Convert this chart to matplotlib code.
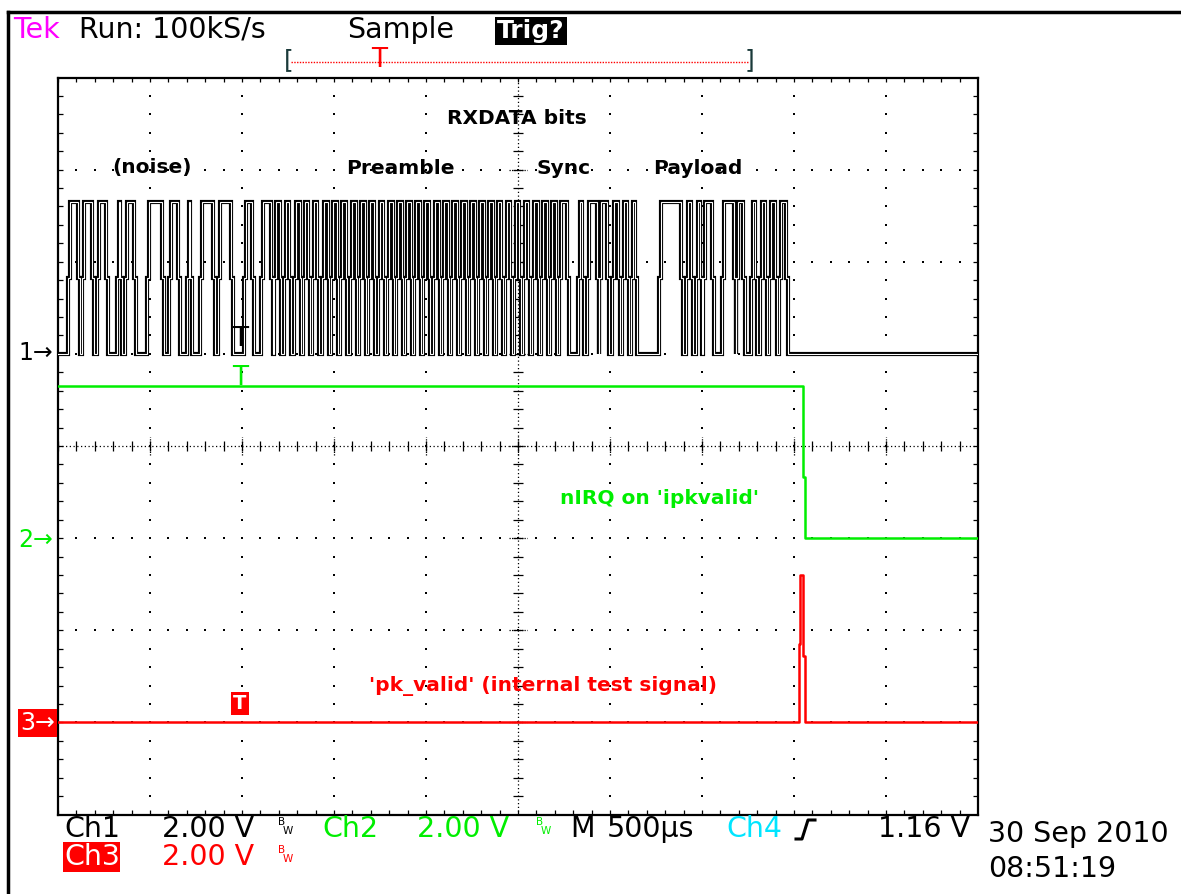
import numpy as np
import matplotlib.pyplot as plt
from matplotlib.lines import Line2D

W, H = 1181, 894
FONT = ['DejaVu Sans']

# ---------------- values ----------------
# time axis: us from left edge of screen, 500 us/div, 10 div
us_per_div = 500
volts_per_div = 2.0

# Ch1 (RXDATA) edge times in us, alternating rise / fall, starts low
ch1_edges_us = [
    # noise
    54, 109, 130, 185, 212, 261, 321, 337, 364, 413, 484, 565, 603, 652,
    701, 717, 772, 842, 870, 940, 1011, 1054, 1103, 1158,
    # preamble
    1174, 1204, 1228, 1258, 1283, 1313, 1332, 1361, 1380, 1410, 1435, 1465,
    1484, 1514, 1533, 1563, 1587, 1617, 1636, 1666, 1685, 1715, 1739, 1769,
    1788, 1818, 1837, 1867, 1886, 1916, 1935, 1965, 1984, 2014, 2038, 2068,
    2087, 2117, 2136, 2166, 2185, 2215, 2234, 2264, 2283, 2313, 2332, 2362,
    2380, 2410, 2429, 2459, 2478, 2508, 2527, 2557, 2576, 2606, 2625, 2655,
    2674, 2704, 2723, 2766,
    # sync + payload
    2826, 2848, 2875, 2929, 2940, 2984, 3011, 3043, 3065, 3092, 3114, 3136,
    3266, 3386, 3413, 3440, 3467, 3489, 3505, 3554, 3609, 3674, 3685, 3723,
    3766, 3788, 3815, 3842, 3864, 3897, 3918, 3957,
]
ch1_high_v = 3.3
ch1_pos_div = 1.0

# Ch2 (nIRQ) high then falls once
ch2_fall_us = 4049
ch2_high_v = 3.3
ch2_pos_div = -1.0

# Ch3 (pk_valid) short pulse
ch3_t_us = [0, 4026, 4026, 4034, 4034, 4050, 4050, 4062, 4062, 5000]
ch3_v = [0, 0, 1.7, 1.7, 3.2, 3.2, 1.45, 1.45, 0, 0]
ch3_pos_div = -3.0

trig_us = 989

GREEN = '#00ee00'
RED = '#ff0000'
top_text = [('Tek', 13, '#ff00ff'), ('Run: 100kS/s', 79, 'black'), ('Sample', 347, 'black')]
bottom_row1 = [('Ch1', 64, 'black'), ('2.00 V', 162, 'black'), ('Ch2', 322, GREEN),
               ('2.00 V', 417, GREEN), ('M', 570, 'black'), ('500\u00b5s', 607, 'black'),
               ('Ch4', 726, '#00e5ff'), ('1.16 V', 878, 'black')]
labels = [('RXDATA bits', 517, 118), ('(noise)', 152, 168), ('Preamble', 400, 168),
          ('Sync', 564, 168), ('Payload', 698, 168)]


def fx(x):
    return x / W


def fy(y):
    return 1 - y / H


def edge_trace(edges, hi, step=10):
    # scope draws one in-between sample on every edge
    t, v = [0], [0.0]
    lvl = 0.0
    for e in edges:
        new = hi if lvl == 0 else 0.0
        t += [e, e, e + step, e + step]
        v += [lvl, hi / 2, hi / 2, new]
        lvl = new
    t.append(5000)
    v.append(lvl)
    return np.array(t), np.array(v)


fig = plt.figure(figsize=(W / 100, H / 100), dpi=100)
fig.patch.set_facecolor('white')
ax = fig.add_axes([fx(58), fy(814.5), 920 / W, 737 / H])
ax.set_xlim(0, 10 * us_per_div)
ax.set_ylim(-4, 4)
ax.set_xticks([])
ax.set_yticks([])
for s in ax.spines.values():
    s.set_linewidth(1.6)
    s.set_color('black')

# ---------------- graticule ----------------
ys = np.arange(-4, 4.01, 0.2)
xs = np.arange(0, 5001, 100)
for i in range(1, 10):
    if i == 5:
        continue
    ax.plot([i * 500] * len(ys), ys, ls='none', marker='s', ms=1.5, color='black', mew=0)
for j in range(-3, 4):
    if j == 0:
        continue
    ax.plot(xs, [j] * len(xs), ls='none', marker='s', ms=1.5, color='black', mew=0)
ax.plot([2500, 2500], [-4, 4], ls=(0, (1, 2)), lw=0.9, color='black')
ax.plot([0, 5000], [0, 0], ls=(0, (1, 2)), lw=0.9, color='black')
ax.vlines(xs, -0.05, 0.05, color='black', lw=0.9)
ax.hlines(ys, 2500 - 27, 2500 + 27, color='black', lw=0.9)
ax.vlines(np.arange(500, 5000, 500), -0.1, 0.1, color='black', lw=0.9, ls=(0, (1, 1)))
ax.hlines(np.arange(-3, 4, 1), 2500 - 50, 2500 + 50, color='black', lw=0.9, ls=(0, (1, 1)))
# edge ticks
ax.vlines(xs, 4 - 0.05, 4, color='black', lw=0.9)
ax.vlines(xs, -4, -4 + 0.05, color='black', lw=0.9)
ax.hlines(ys, 0, 25, color='black', lw=0.9)
ax.hlines(ys, 5000 - 25, 5000, color='black', lw=0.9)

# ---------------- traces ----------------
t1, v1 = edge_trace(ch1_edges_us, ch1_high_v)
ax.plot(t1, ch1_pos_div + v1 / volts_per_div, color='black', lw=3.0, zorder=5,
        solid_joinstyle='miter')
ax.plot(t1, ch1_pos_div + v1 / volts_per_div, color='white', lw=0.8, zorder=6,
        solid_joinstyle='miter')

t2 = [0, ch2_fall_us, ch2_fall_us, ch2_fall_us + 12, ch2_fall_us + 12, 5000]
v2 = [ch2_high_v, ch2_high_v, ch2_high_v * 0.4, ch2_high_v * 0.4, 0, 0]
ax.plot(t2, ch2_pos_div + np.array(v2) / volts_per_div, color=GREEN, lw=1.8, zorder=5)

ax.plot(ch3_t_us, ch3_pos_div + np.array(ch3_v) / volts_per_div, color=RED, lw=1.8, zorder=5)

# trigger "T" markers on each channel
ax.text(trig_us, ch1_pos_div + 0.02, 'T', color='black', fontsize=19, ha='center', va='bottom',
        family=FONT, zorder=7)
ax.text(trig_us, ch2_pos_div + 1.6, 'T', color=GREEN, fontsize=19, ha='center', va='bottom',
        family=FONT, zorder=7)
ax.text(trig_us, ch3_pos_div + 0.1, 'T', color='white', fontsize=14, ha='center', va='bottom',
        family=FONT, weight='bold', zorder=7,
        bbox=dict(boxstyle='square,pad=0.1', fc=RED, ec='none'))

# annotations inside the screen
for txt, x, y in labels:
    fig.text(fx(x), fy(y), txt, ha='center', va='center', fontsize=14.5, weight='bold', family=FONT)
fig.text(fx(659), fy(499), "nIRQ on 'ipkvalid'", ha='center', va='center', fontsize=14.5,
         weight='bold', color=GREEN, family=FONT)
fig.text(fx(543), fy(686), "'pk_valid' (internal test signal)", ha='center', va='center',
         fontsize=14.5, weight='bold', color=RED, family=FONT)

# channel ground markers
fig.text(fx(18), fy(353), '1\u2192', ha='left', va='center', fontsize=17, color='black', family=FONT)
fig.text(fx(18), fy(540), '2\u2192', ha='left', va='center', fontsize=17, color=GREEN, family=FONT)
fig.text(fx(20), fy(723), '3\u2192', ha='left', va='center', fontsize=17, color='white', family=FONT,
         bbox=dict(boxstyle='square,pad=0.1', fc=RED, ec='none'))

# ---------------- status lines ----------------
for txt, x, c in top_text:
    fig.text(fx(x), fy(30), txt, ha='left', va='center', fontsize=20.5, color=c, family=FONT)
fig.text(fx(497), fy(31), 'Trig?', ha='left', va='center', fontsize=18, color='white',
         weight='bold', family=FONT, bbox=dict(boxstyle='square,pad=0.08', fc='black', ec='none'))

# record window bracket
fig.add_artist(Line2D([fx(291), fx(748)], [fy(62), fy(62)], color=RED, lw=1,
                      ls=(0, (1, 1))))
fig.text(fx(284), fy(60), '[', ha='left', va='center', fontsize=18, color='#1a3a3a', family=FONT)
fig.text(fx(745), fy(60), ']', ha='left', va='center', fontsize=18, color='#1a3a3a', family=FONT)
fig.text(fx(379), fy(60), 'T', ha='center', va='center', fontsize=19, color=RED, family=FONT)

for txt, x, c in bottom_row1:
    fig.text(fx(x), fy(829), txt, ha='left', va='center', fontsize=20.5, color=c, family=FONT)
fig.text(fx(64), fy(857), 'Ch3', ha='left', va='center', fontsize=20.5, color='white', family=FONT,
         bbox=dict(boxstyle='square,pad=0.02', fc=RED, ec='none'))
fig.text(fx(162), fy(857), '2.00 V', ha='left', va='center', fontsize=20.5, color=RED, family=FONT)
for x, y, c in [(278, 822, 'black'), (536, 822, GREEN), (278, 850, RED)]:
    fig.text(fx(x), fy(y), 'B', ha='left', va='center', fontsize=7.5, color=c, family=FONT)
    fig.text(fx(x + 5), fy(y + 9), 'W', ha='left', va='center', fontsize=7.5, color=c, family=FONT)
# rising edge symbol
fig.add_artist(Line2D([fx(796), fx(802), fx(808), fx(815)], [fy(839), fy(839), fy(820), fy(820)],
                      color='black', lw=2.2))
fig.text(fx(988), fy(834), '30 Sep 2010', ha='left', va='center', fontsize=20.5, family=FONT)
fig.text(fx(988), fy(869), '08:51:19', ha='left', va='center', fontsize=20.5, family=FONT)

# outer frame of the screenshot
fig.add_artist(Line2D([fx(8), fx(8)], [fy(12), fy(894)], color='black', lw=2.5))
fig.add_artist(Line2D([fx(8), fx(1181)], [fy(12), fy(12)], color='black', lw=2.5))

fig.savefig('out.png', dpi=100, facecolor='white')
